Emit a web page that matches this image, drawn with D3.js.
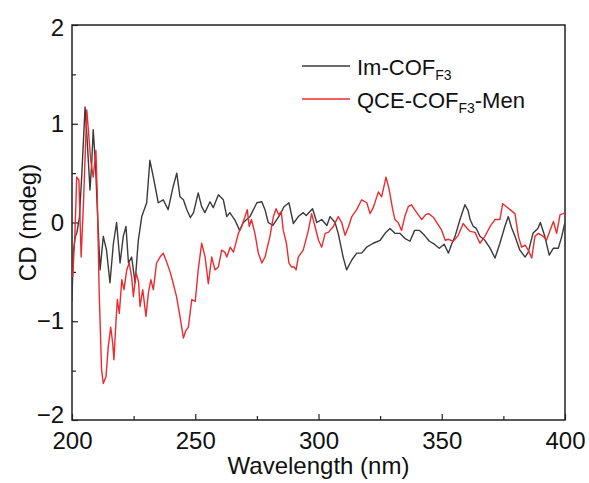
<!DOCTYPE html>
<html>
<head>
<meta charset="utf-8">
<script src="https://cdn.jsdelivr.net/npm/d3@7"></script>
<style>
  html, body { margin: 0; padding: 0; background: #fff; }
  text { font-family: "Liberation Sans", Arial, sans-serif; fill: #111; }
</style>
</head>
<body>
<svg id="chart" width="589" height="483"></svg>
<script>
// ---- Data ----
const seriesNames = ["Im-COF", "QCE-COF"];
const xTicks = [200, 250, 300, 350, 400];
const yTicks = [-2, -1, 0, 1, 2];

const imWavelength = [200.0, 200.5, 201.3, 202.0, 203.0, 204.0, 205.3, 206.0, 207.3, 208.0, 208.6, 209.5, 210.5, 211.4, 212.7, 214.0, 215.4, 216.8, 218.1, 219.5, 220.8, 221.9, 222.9, 224.2, 225.6, 226.9, 228.3, 230.3, 231.6, 233.0, 235.0, 237.0, 239.0, 241.0, 242.5, 243.8, 245.2, 246.6, 248.0, 249.3, 251.2, 252.6, 253.9, 256.0, 257.3, 259.4, 261.4, 262.8, 264.0, 266.0, 268.0, 269.5, 272.2, 275.0, 277.0, 278.3, 279.6, 281.5, 284.4, 286.0, 288.0, 289.8, 291.8, 293.8, 295.0, 297.6, 299.3, 301.3, 303.4, 304.7, 306.7, 308.0, 310.0, 311.4, 313.5, 315.5, 317.5, 319.5, 322.2, 325.0, 327.0, 329.0, 331.0, 333.0, 335.0, 337.1, 339.0, 341.0, 343.0, 345.0, 347.0, 349.0, 351.0, 352.7, 354.0, 355.4, 357.4, 359.4, 360.7, 361.5, 362.8, 364.0, 365.5, 367.5, 369.6, 371.6, 373.6, 375.6, 377.0, 378.3, 379.7, 381.7, 383.8, 385.1, 387.0, 389.0, 390.0, 391.8, 393.6, 395.3, 397.3, 398.7, 399.6, 400.0];
const imCD = [-0.80, -0.30, -0.15, -0.10, 0.05, 0.50, 1.17, 0.90, 0.33, 0.60, 0.94, 0.60, 0.00, -0.48, -0.14, -0.28, -0.61, -0.21, 0.00, -0.41, -0.14, -0.04, -0.41, -0.35, -0.61, -0.18, 0.06, 0.20, 0.63, 0.46, 0.20, 0.23, 0.13, 0.36, 0.50, 0.26, 0.23, 0.13, 0.05, 0.10, 0.30, 0.16, 0.10, 0.21, 0.15, 0.28, 0.23, 0.06, 0.10, 0.03, -0.08, 0.00, 0.06, 0.20, 0.21, 0.13, 0.00, -0.03, 0.08, 0.16, 0.20, -0.01, 0.06, 0.10, 0.07, 0.14, 0.00, 0.03, -0.03, 0.06, 0.00, -0.11, -0.35, -0.48, -0.38, -0.31, -0.31, -0.25, -0.21, -0.18, -0.11, -0.06, -0.11, -0.11, -0.16, -0.19, -0.08, -0.08, -0.13, -0.19, -0.22, -0.26, -0.22, -0.31, -0.22, -0.14, 0.03, 0.18, 0.12, 0.03, -0.04, -0.06, -0.14, -0.18, -0.26, -0.36, -0.21, -0.04, 0.06, -0.05, -0.14, -0.28, -0.35, -0.30, -0.11, -0.06, 0.00, -0.14, -0.33, -0.26, -0.26, -0.14, -0.04, 0.00];

const qceWavelength = [200.3, 201.2, 201.9, 202.8, 203.7, 204.6, 206.0, 206.6, 207.6, 208.6, 209.7, 210.2, 211.0, 212.0, 212.7, 213.8, 214.7, 215.7, 216.5, 217.0, 217.8, 218.4, 219.2, 220.2, 221.1, 222.2, 223.2, 224.2, 224.9, 226.0, 227.0, 227.6, 228.7, 230.0, 231.0, 232.0, 233.0, 234.3, 235.7, 237.0, 238.4, 239.8, 241.0, 242.4, 243.8, 245.2, 246.1, 247.2, 248.6, 250.0, 251.2, 252.6, 254.0, 255.3, 256.7, 258.0, 259.4, 260.7, 262.0, 262.8, 264.2, 265.5, 267.5, 268.8, 270.2, 271.1, 271.9, 272.8, 274.2, 275.6, 277.0, 278.3, 280.3, 281.7, 282.8, 283.8, 284.9, 285.7, 287.0, 288.0, 289.0, 290.1, 290.9, 291.8, 293.8, 295.9, 297.2, 298.6, 300.0, 301.3, 302.7, 304.0, 306.0, 308.0, 309.4, 310.8, 312.2, 313.5, 315.5, 317.5, 319.6, 320.9, 322.2, 324.3, 325.6, 327.4, 328.7, 330.1, 331.0, 332.3, 333.7, 335.0, 336.4, 337.7, 339.0, 341.9, 343.5, 344.7, 346.7, 348.2, 350.0, 351.4, 352.7, 354.7, 356.7, 358.7, 360.0, 361.5, 363.5, 365.5, 367.5, 369.6, 371.6, 373.6, 374.7, 376.3, 377.7, 379.7, 381.1, 382.4, 383.8, 385.1, 386.5, 387.8, 389.2, 391.2, 392.5, 393.9, 395.3, 396.6, 398.0, 399.3, 400.0];
const qceCD = [-0.55, -0.11, 0.46, 0.43, -0.35, 0.16, 1.14, 0.95, 0.63, 0.46, 0.73, 0.33, -0.68, -1.49, -1.63, -1.56, -1.26, -1.06, -1.22, -1.39, -1.02, -0.78, -0.92, -0.58, -0.68, -0.48, -0.41, -0.55, -0.75, -0.51, -0.60, -0.85, -0.68, -0.95, -0.71, -0.58, -0.68, -0.41, -0.35, -0.31, -0.40, -0.50, -0.61, -0.75, -0.95, -1.17, -1.10, -1.06, -0.78, -0.80, -0.48, -0.21, -0.35, -0.62, -0.35, -0.48, -0.45, -0.28, -0.30, -0.35, -0.25, -0.30, -0.11, -0.04, 0.06, 0.13, -0.04, 0.03, -0.11, -0.31, -0.41, -0.35, -0.14, 0.06, 0.14, 0.08, 0.11, -0.08, -0.21, -0.41, -0.45, -0.45, -0.48, -0.35, -0.28, -0.08, 0.09, -0.04, -0.18, -0.25, -0.11, -0.10, -0.04, 0.06, 0.00, -0.13, -0.04, 0.06, 0.13, 0.23, 0.20, 0.09, 0.15, 0.31, 0.26, 0.46, 0.33, 0.13, 0.03, 0.00, -0.08, 0.06, 0.16, 0.18, 0.13, 0.03, 0.08, 0.09, 0.05, -0.01, -0.08, -0.18, -0.17, -0.19, -0.13, -0.01, -0.05, -0.09, -0.10, -0.21, -0.14, -0.04, 0.03, 0.03, 0.19, 0.16, 0.13, 0.09, -0.14, -0.25, -0.23, -0.28, -0.36, -0.14, -0.11, -0.14, -0.18, -0.08, 0.01, -0.11, 0.08, 0.09, 0.10];

// ---- Layout ----
const svg = d3.select("#chart");
const mLeft = 72, mRight = 565, mTop = 25, mBottom = 420;

const x = d3.scaleLinear().domain([200, 400]).range([mLeft, mRight]);
const y = d3.scaleLinear().domain([-2, 2]).range([mBottom, mTop]);

// axes with inward ticks
const xMinor = d3.range(225, 400, 50);
const yMinor = [-1.5, -0.5, 0.5, 1.5];

const gx = svg.append("g").attr("transform", `translate(0,${mBottom})`);
gx.call(d3.axisBottom(x).tickValues(xTicks).tickSize(-6).tickPadding(12).tickFormat(d3.format("d")));
gx.append("g").call(d3.axisBottom(x).tickValues(xMinor).tickSize(-4).tickFormat(""));

const gy = svg.append("g").attr("transform", `translate(${mLeft},0)`);
gy.call(d3.axisLeft(y).tickValues(yTicks).tickSize(-6).tickPadding(8).tickFormat(d3.format("d")));
gy.append("g").call(d3.axisLeft(y).tickValues(yMinor).tickSize(-4).tickFormat(""));

svg.selectAll(".domain").remove();
svg.selectAll(".tick line").attr("stroke", "#222").attr("stroke-width", 1.2);
svg.selectAll(".tick text").attr("font-size", 24).attr("fill", "#111")
   .attr("font-family", "'Liberation Sans', Arial, sans-serif");
// nudge end labels like the reference
gy.selectAll(".tick text").filter(d => d === 2).attr("dy", "0.45em");
gy.selectAll(".tick text").filter(d => d === -2).attr("dy", "0.1em");
gx.selectAll(".tick text").attr("dy", "0.72em");

// frame
svg.append("rect").attr("x", mLeft).attr("y", mTop)
   .attr("width", mRight - mLeft).attr("height", mBottom - mTop)
   .attr("fill", "none").attr("stroke", "#222").attr("stroke-width", 1.5);

// lines
svg.append("clipPath").attr("id", "clip")
  .append("rect").attr("x", mLeft).attr("y", mTop).attr("width", mRight - mLeft).attr("height", mBottom - mTop);

const line = d3.line().x(d => x(d[0])).y(d => y(d[1]));
const imData = imWavelength.map((w, i) => [w, imCD[i]]);
const qceData = qceWavelength.map((w, i) => [w, qceCD[i]]);

const colors = ["#3a3a3a", "#ec2b2f"];

svg.append("path").datum(imData).attr("d", line).attr("fill", "none")
   .attr("stroke", colors[0]).attr("stroke-width", 1.4).attr("stroke-linejoin", "round")
   .attr("clip-path", "url(#clip)");
svg.append("path").datum(qceData).attr("d", line).attr("fill", "none")
   .attr("stroke", colors[1]).attr("stroke-width", 1.4).attr("stroke-linejoin", "round")
   .attr("clip-path", "url(#clip)");

// axis titles
svg.append("text").attr("x", (mLeft + mRight) / 2).attr("y", 474)
   .attr("text-anchor", "middle").attr("font-size", 24).text("Wavelength (nm)");
svg.append("text").attr("transform", `translate(36,${(mTop + mBottom) / 2}) rotate(-90)`)
   .attr("text-anchor", "middle").attr("font-size", 24).text("CD (mdeg)");

// legend
const legY = [66, 99];
const leg = svg.append("g");
seriesNames.forEach((name, i) => {
  leg.append("line").attr("x1", 302).attr("x2", 350).attr("y1", legY[i]).attr("y2", legY[i])
     .attr("stroke", colors[i]).attr("stroke-width", 1.4);
  const t = leg.append("text").attr("x", 357).attr("y", legY[i] + 9).attr("font-size", 22);
  t.append("tspan").text(name);
  t.append("tspan").attr("font-size", 14).attr("dy", 5).text("F3");
  if (i === 1) t.append("tspan").attr("dy", -5).text("-Men");
});
</script>
</body>
</html>
